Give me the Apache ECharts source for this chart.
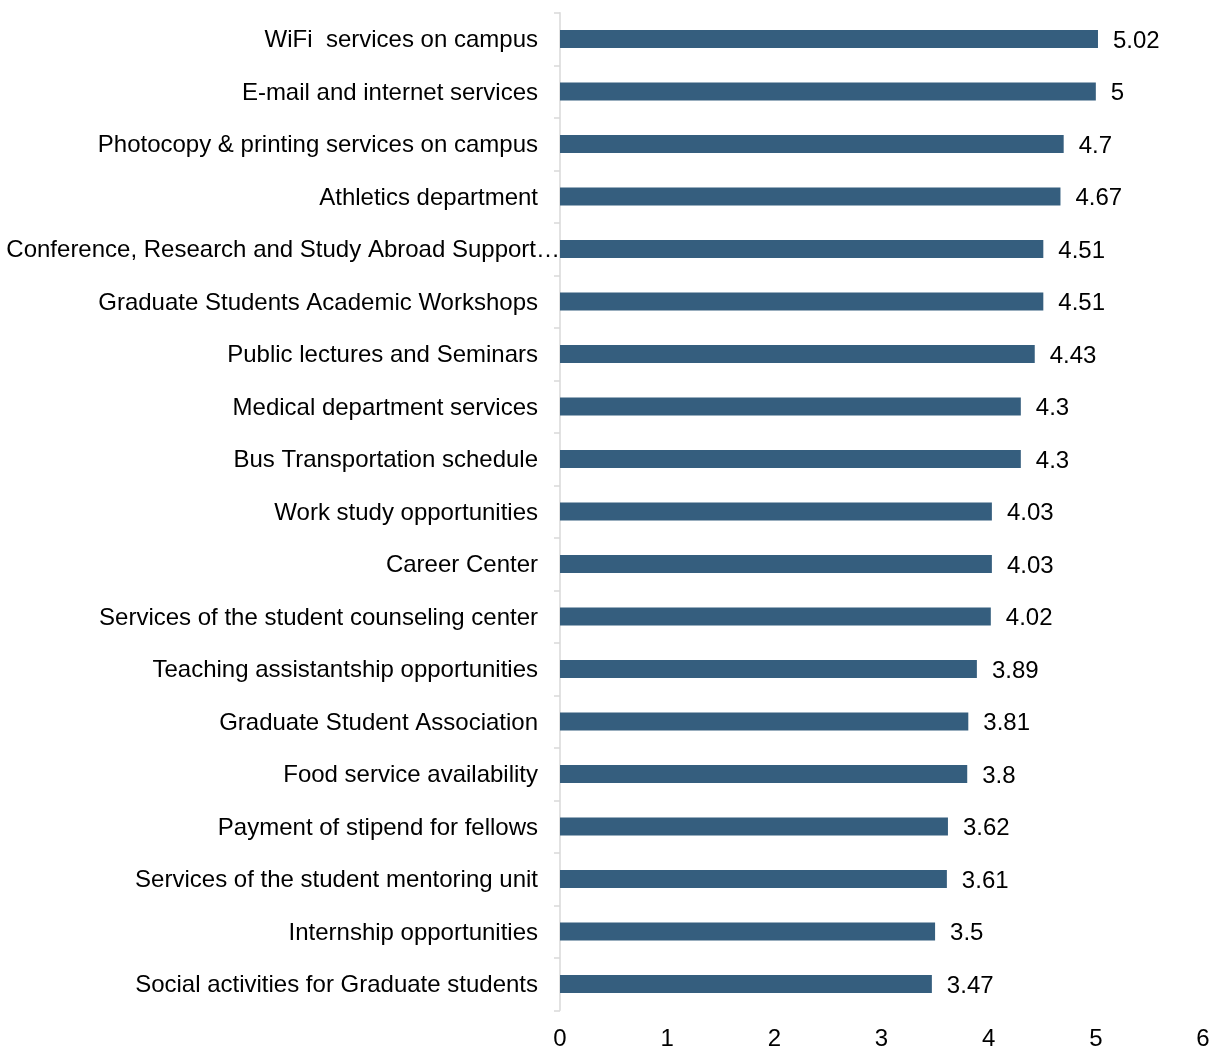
<!DOCTYPE html>
<html>
<head>
<meta charset="utf-8">
<script src="https://cdn.jsdelivr.net/npm/echarts@6/dist/echarts.min.js"></script>
<style>html,body{margin:0;padding:0;background:#fff;}#c{width:1217px;height:1051px;}</style>
</head>
<body>
<div id="c"></div>
<script>
const categories = [
  "WiFi  services on campus",
  "E-mail and internet services",
  "Photocopy & printing services on campus",
  "Athletics department",
  "Conference, Research and Study Abroad Support…",
  "Graduate Students Academic Workshops",
  "Public lectures and Seminars",
  "Medical department services",
  "Bus Transportation schedule",
  "Work study opportunities",
  "Career Center",
  "Services of the student counseling center",
  "Teaching assistantship opportunities",
  "Graduate Student Association",
  "Food service availability",
  "Payment of stipend for fellows",
  "Services of the student mentoring unit",
  "Internship opportunities",
  "Social activities for Graduate students"
];
const values = [5.02, 5, 4.7, 4.67, 4.51, 4.51, 4.43, 4.3, 4.3, 4.03, 4.03, 4.02, 3.89, 3.81, 3.8, 3.62, 3.61, 3.5, 3.47];
const xTicks = [0, 1, 2, 3, 4, 5, 6];

const FONT = 'Liberation Sans, Arial, sans-serif';
const chart = echarts.init(document.getElementById('c'), null, {renderer: 'canvas'});
chart.setOption({
  animation: false,
  backgroundColor: '#ffffff',
  textStyle: {fontFamily: FONT},
  grid: {left: 560, right: 14, top: 12.75, bottom: 40.75, containLabel: false, outerBoundsMode: 'none'},
  xAxis: {
    type: 'value',
    min: xTicks[0], max: xTicks[xTicks.length - 1], interval: 1,
    axisLine: {show: false},
    axisTick: {show: false},
    splitLine: {show: false},
    axisLabel: {color: '#000', fontSize: 24, margin: 17, fontFamily: FONT}
  },
  yAxis: {
    type: 'category',
    data: categories,
    inverse: true,
    axisLine: {show: true, lineStyle: {color: '#d9d9d9', width: 1.5}},
    axisTick: {show: true, length: 6, lineStyle: {color: '#d9d9d9', width: 1.5}},
    axisLabel: {
      color: '#000', fontSize: 24, margin: 0, fontFamily: FONT,
      formatter: function (v) { return v.endsWith('…') ? '{t|' + v + '}' : '{n|' + v + '}'; },
      rich: {
        n: {fontSize: 24, color: '#000', fontFamily: FONT, padding: [3, 22, 0, 0]},
        t: {fontSize: 24, color: '#000', fontFamily: FONT, padding: [3, 0, 0, 0]}
      }
    }
  },
  series: [{
    type: 'bar',
    data: values,
    barWidth: 18,
    itemStyle: {color: '#355e7e'},
    label: {show: true, position: 'right', distance: 15, offset: [0, 2], color: '#000', fontSize: 24, fontFamily: FONT}
  }]
});
</script>
</body>
</html>
